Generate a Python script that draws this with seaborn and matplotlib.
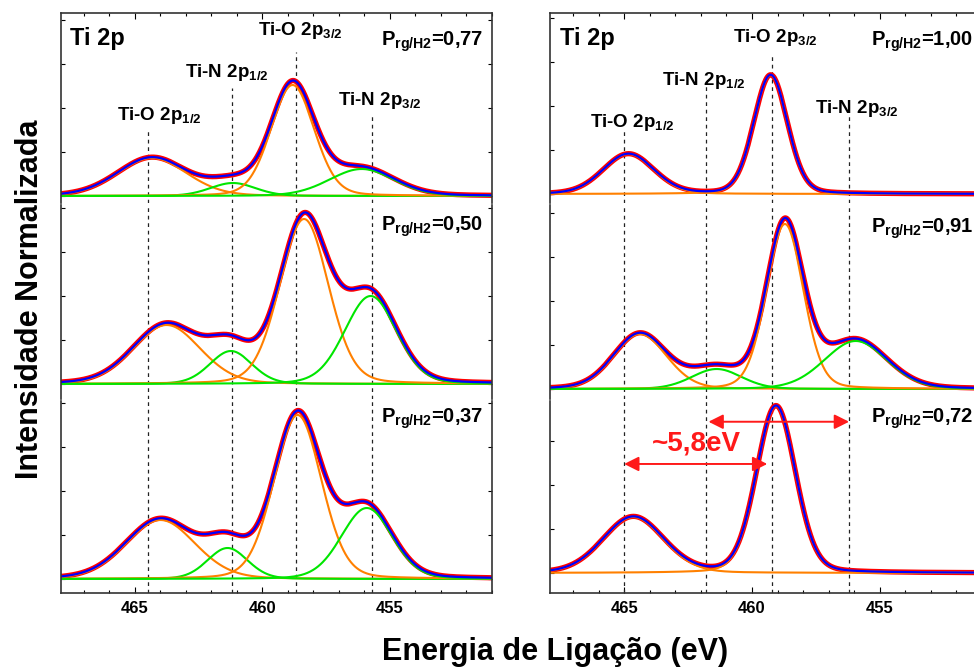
import numpy as np
import matplotlib
matplotlib.use("Agg")
import matplotlib.pyplot as plt
from matplotlib.ticker import MultipleLocator
import seaborn as sns

sns.set_theme(style="ticks")
plt.rcParams["font.family"] = ["Liberation Sans", "DejaVu Sans"]
plt.rcParams["font.weight"] = "bold"
plt.rcParams["text.color"] = "black"
plt.rcParams["xtick.color"] = "black"
plt.rcParams["ytick.color"] = "black"
plt.rcParams["mathtext.fontset"] = "custom"
plt.rcParams["mathtext.rm"] = "Liberation Sans:bold"
plt.rcParams["mathtext.it"] = "Liberation Sans:bold"
plt.rcParams["mathtext.bf"] = "Liberation Sans:bold"

# DATA -- fitted Ti 2p components
# order of components: Ti-O 2p1/2, Ti-N 2p1/2, Ti-O 2p3/2, Ti-N 2p3/2
comp_labels = ["Ti-O 2p$_{1/2}$", "Ti-N 2p$_{1/2}$", "Ti-O 2p$_{3/2}$", "Ti-N 2p$_{3/2}$"]
comp_colors = ["#ff8000", "#00e600", "#ff8000", "#00e600"]

left_pressure = ["0,77", "0,50", "0,37"]
left_centre = [[464.33, 461.16, 458.82, 456.11],
               [463.76, 461.24, 458.37, 455.76],
               [464.00, 461.37, 458.62, 455.91]]
left_height = [[0.38, 0.13, 1.11, 0.27],
               [0.59, 0.33, 1.65, 0.88],
               [0.59, 0.31, 1.64, 0.71]]
left_fwhm = [[3.2, 2.1, 2.0, 3.0],
             [3.1, 1.95, 2.25, 2.4],
             [3.2, 1.85, 2.2, 2.35]]
left_lines = [464.5, 461.2, 458.7, 455.7]

right_pressure = ["1,00", "0,91", "0,72"]
right_centre = [[464.83, np.nan, 459.27, np.nan],
                [464.38, 461.38, 458.71, 455.94],
                [464.64, np.nan, 459.06, np.nan]]
right_height = [[0.40, np.nan, 1.19, np.nan],
                [0.55, 0.20, 1.65, 0.48],
                [0.56, np.nan, 1.67, np.nan]]
right_fwhm = [[2.35, np.nan, 1.55, np.nan],
              [2.45, 2.3, 1.7, 2.9],
              [2.8, np.nan, 1.8, np.nan]]
right_lines = [465.0, 461.8, 459.2, 456.2]

split_text = "~5,8eV"
split_arrows = [(465.0, 459.4), (461.7, 456.2)]

# LAYOUT (pixels of the 974x669 picture)
W, H = 974, 669
panel_x = [(61, 492), (550, 982)]
bands = [(13, 203), (205, 399), (401, 593)]
base_off = [[7, 15, 14], [9, 10, 20]]
line_top = [[0.384, 0.605, 0.795, 0.463], [0.384, 0.621, 0.789, 0.463]]
label_x = [[465.71, 463.04, 460.18, 457.04], [466.33, 463.53, 460.74, 457.54]]
label_y = [[0.437, 0.663, 0.884, 0.516], [0.400, 0.621, 0.847, 0.474]]
p_y = [[0.826, 0.868, 0.887], [0.826, 0.856, 0.885]]

energy = np.linspace(451.0, 468.0, 900)


def peak(x, c, h, w, eta=0.15):
    g = np.exp(-4 * np.log(2) * ((x - c) / w) ** 2)
    l = 1 / (1 + 4 * ((x - c) / w) ** 2)
    return h * ((1 - eta) * g + eta * l)


fig = plt.figure(figsize=(W / 100, H / 100), dpi=100)

panels = [
    (left_pressure, left_centre, left_height, left_fwhm, left_lines),
    (right_pressure, right_centre, right_height, right_fwhm, right_lines),
]

for p, (press, cen, hei, fw, vlines) in enumerate(panels):
    x0, x1 = panel_x[p]
    for r, (t, b) in enumerate(bands):
        ax = fig.add_axes([x0 / W, 1 - b / H, (x1 - x0) / W, (b - t) / H])
        off = base_off[p][r]

        comps = []
        for k in range(4):
            if np.isnan(cen[r][k]):
                continue
            comps.append((k, peak(energy, cen[r][k], hei[r][k], fw[r][k])))
        total = np.sum([c for _, c in comps], axis=0)

        sns.lineplot(x=energy, y=total, ax=ax, color="#ff0000", lw=3.8,
                     estimator=None, legend=False)
        for k, c in comps:
            sns.lineplot(x=energy, y=c, ax=ax, color=comp_colors[k], lw=1.5,
                         estimator=None, legend=False)
        sns.lineplot(x=energy, y=total, ax=ax, color="#0000ff", lw=1.6,
                     estimator=None, legend=False)

        for k, xv in enumerate(vlines):
            ymax = line_top[p][k] if r == 0 else 1
            ax.axvline(xv, ymin=0, ymax=ymax, color="#222222", lw=0.9,
                       ls=(0, (3, 3)), zorder=1)

        ax.set_xlim(467.9, 451.0)
        ax.set_ylim(-off / 100, (b - t - off) / 100)
        ax.set_xlabel("")
        ax.set_ylabel("")

        ax.xaxis.set_major_locator(MultipleLocator(5))
        ax.xaxis.set_minor_locator(MultipleLocator(1))
        ax.yaxis.set_major_locator(MultipleLocator(0.44))
        ax.tick_params(axis="y", which="both", direction="in", left=True,
                       right=True, labelleft=False, length=3, width=0.8)
        ax.tick_params(axis="x", which="major", direction="in", length=4, width=0.8)
        ax.tick_params(axis="x", which="minor", direction="in", length=2, width=0.8)
        for s in ax.spines.values():
            s.set_color("#333333")
            s.set_linewidth(1.2)
        if r == 0:
            ax.spines["bottom"].set_visible(False)
            ax.tick_params(axis="x", which="both", top=True, bottom=False,
                           labelbottom=False)
        elif r == 1:
            ax.spines["bottom"].set_visible(False)
            ax.spines["top"].set_visible(False)
            ax.tick_params(axis="x", which="both", top=False, bottom=False,
                           labelbottom=False)
        else:
            ax.spines["top"].set_visible(False)
            ax.tick_params(axis="x", which="both", top=False, bottom=True,
                           labelbottom=True, labelsize=12, pad=6)
            for lab in ax.get_xticklabels():
                lab.set_fontweight("bold")

        ax.text(0.743, p_y[p][r], "P$_{\\mathrm{rg/H2}}$=" + press[r],
                transform=ax.transAxes, fontsize=14.5, fontweight="bold",
                ha="left", va="baseline", color="black")

        if r == 0:
            ax.text(0.022, 0.832, "Ti 2p", transform=ax.transAxes, fontsize=17,
                    fontweight="bold", ha="left", va="baseline")
            for k in range(4):
                ax.text(label_x[p][k], label_y[p][k], comp_labels[k],
                        transform=ax.get_xaxis_transform(), fontsize=13.5,
                        fontweight="bold", ha="left", va="baseline")

        if p == 1 and r == 2:
            trans = ax.get_xaxis_transform()
            for (xa, xb), yy in zip(split_arrows, [0.672, 0.892]):
                ax.annotate("", xy=(xb, yy), xytext=(xa, yy), xycoords=trans,
                            textcoords=trans,
                            arrowprops=dict(arrowstyle="<|-|>", color="#ff1a1a",
                                            lw=1.4, mutation_scale=22,
                                            shrinkA=0, shrinkB=0))
            ax.text(462.16, 0.78, split_text, transform=trans, fontsize=20,
                    fontweight="bold", color="#ff1a1a", ha="center", va="center")

fig.text(0.031, 0.552, "Intensidade Normalizada", rotation=90, fontsize=22,
         fontweight="bold", ha="center", va="center")
fig.text(0.57, 0.013, "Energia de Ligação (eV)", fontsize=22,
         fontweight="bold", ha="center", va="baseline")

fig.savefig("out.png", dpi=100)
